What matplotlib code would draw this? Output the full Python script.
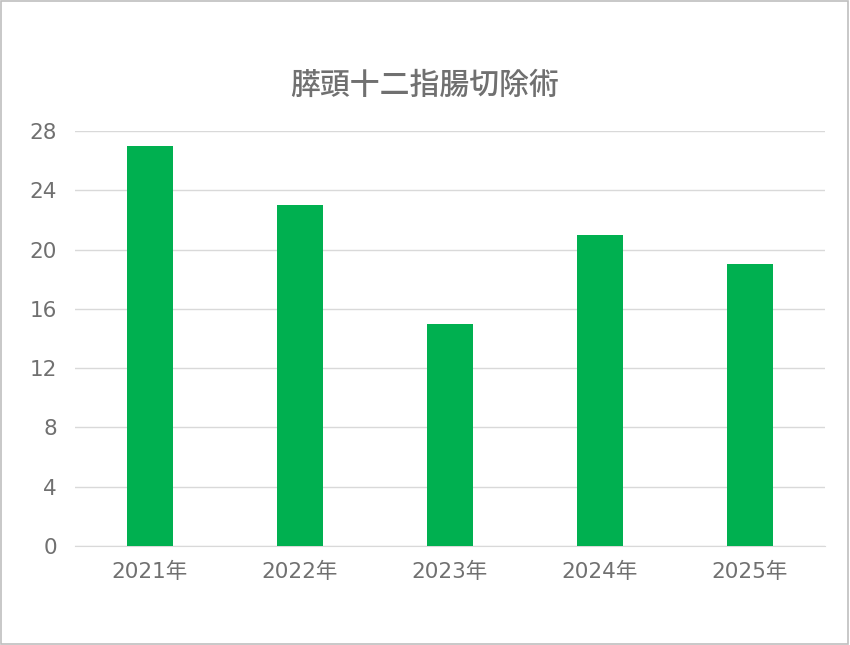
import matplotlib
matplotlib.use("Agg")
import matplotlib.pyplot as plt
from matplotlib.patches import Rectangle

plt.rcParams['font.family'] = ['DejaVu Sans', 'Noto Sans CJK JP']

# data
years = ['2021年', '2022年', '2023年', '2024年', '2025年']
counts = [27, 23, 15, 21, 19]
y_ticks = [0, 4, 8, 12, 16, 20, 24, 28]
title = '膵頭十二指腸切除術'

text_color = '#707070'
grid_color = '#D9D9D9'
bar_color = '#00B050'

fig = plt.figure(figsize=(8.5, 6.45), dpi=100)
ax = fig.add_axes([0.0882, 0.1535, 0.8824, 0.6434])

x = range(len(years))
ax.bar(x, counts, width=0.31, color=bar_color, zorder=3)

ax.set_xlim(-0.5, len(years) - 0.5)
ax.set_ylim(0, 28)
ax.set_yticks(y_ticks)
ax.set_xticks(list(x))
ax.set_xticklabels(years)

ax.grid(axis='y', color=grid_color, linewidth=1, zorder=0)
for s in ['top', 'right', 'left']:
    ax.spines[s].set_visible(False)
ax.spines['bottom'].set_color(grid_color)
ax.tick_params(axis='both', length=0, labelsize=15.5, labelcolor=text_color)
ax.tick_params(axis='y', pad=13)
ax.tick_params(axis='x', pad=11)

fig.text(0.5, 0.868, title, ha='center', va='center', fontsize=21.5,
         fontweight='medium', color=text_color, family=['Noto Sans CJK JP'])

# outer border
fig.patches.append(Rectangle((0.001, 0.001), 0.997, 0.997, transform=fig.transFigure,
                             fill=False, edgecolor='#BFBFBF', linewidth=1.2))

fig.savefig('out.png', dpi=100, facecolor='white')
